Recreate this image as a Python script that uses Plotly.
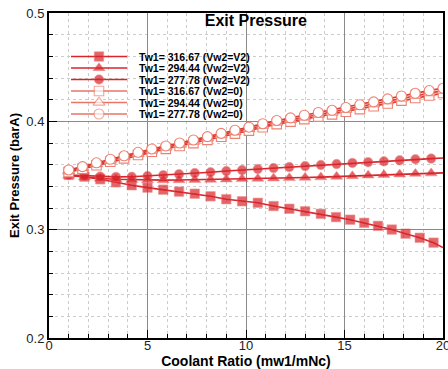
import plotly.graph_objects as go

# ---- data ----
x_sq = [1.0, 1.8, 2.6, 3.4, 4.2, 5.0, 5.8, 6.6, 7.4, 8.2, 9.0, 9.8, 10.6, 11.4, 12.2,
        13.0, 13.8, 14.57, 15.29, 16.0, 16.7, 17.4, 18.1, 18.82, 19.52, 20.0]
y_sq_v2 = [0.3505, 0.3489, 0.3465, 0.3437, 0.3410, 0.3388, 0.3369, 0.3351, 0.3332, 0.3308,
           0.3281, 0.3262, 0.3248, 0.3218, 0.3193, 0.3170, 0.3146, 0.3116, 0.3092, 0.3063,
           0.3035, 0.3001, 0.2963, 0.2925, 0.2880, 0.2835]

x_ct = [1.0, 1.8, 2.6, 3.4, 4.2, 5.0, 5.8, 6.6, 7.4, 8.2, 9.0, 9.8, 10.6, 11.4, 12.2,
        13.0, 13.8, 14.6, 15.4, 16.2, 17.0, 17.8, 18.6, 19.4, 20.0]
y_tri_v2 = [0.3500, 0.3484, 0.3472, 0.3465, 0.3460, 0.3458, 0.3457, 0.3458, 0.3460, 0.3462,
            0.3465, 0.3468, 0.3471, 0.3474, 0.3477, 0.3481, 0.3485, 0.3490, 0.3495, 0.3501,
            0.3506, 0.3511, 0.3517, 0.3521, 0.3524]
y_cir_v2 = [0.3505, 0.3497, 0.3490, 0.3487, 0.3488, 0.3495, 0.3503, 0.3512, 0.3522, 0.3530,
            0.3541, 0.3550, 0.3560, 0.3569, 0.3578, 0.3587, 0.3597, 0.3606, 0.3616, 0.3623,
            0.3631, 0.3640, 0.3650, 0.3656, 0.3661]

x_open = [1.00, 1.70, 2.41, 3.11, 3.81, 4.52, 5.22, 5.93, 6.63, 7.33, 8.04, 8.74, 9.44, 10.15,
          10.85, 11.56, 12.26, 12.96, 13.67, 14.37, 15.07, 15.78, 16.48, 17.19, 17.89, 18.59,
          19.30, 20.00]
y_cir_0 = [0.3551, 0.3582, 0.3617, 0.3650, 0.3682, 0.3714, 0.3745, 0.3773, 0.3800, 0.3828,
           0.3859, 0.3889, 0.3918, 0.3946, 0.3978, 0.4008, 0.4032, 0.4056, 0.4082, 0.4102,
           0.4128, 0.4153, 0.4180, 0.4207, 0.4234, 0.4259, 0.4284, 0.4306]
y_tri_0 = [0.3541, 0.3571, 0.3606, 0.3638, 0.3670, 0.3701, 0.3732, 0.3759, 0.3786, 0.3813,
           0.3844, 0.3873, 0.3902, 0.3930, 0.3961, 0.3991, 0.4014, 0.4038, 0.4063, 0.4083,
           0.4108, 0.4133, 0.4159, 0.4186, 0.4212, 0.4237, 0.4261, 0.4283]
y_sq_0 = [0.3531, 0.3561, 0.3595, 0.3627, 0.3658, 0.3689, 0.3719, 0.3746, 0.3772, 0.3799,
          0.3829, 0.3858, 0.3887, 0.3914, 0.3945, 0.3974, 0.3997, 0.4020, 0.4045, 0.4064,
          0.4089, 0.4113, 0.4139, 0.4165, 0.4191, 0.4215, 0.4239, 0.4261]

names = ["Tw1= 316.67 (Vw2=V2)", "Tw1= 294.44 (Vw2=V2)", "Tw1= 277.78 (Vw2=V2)",
         "Tw1= 316.67 (Vw2=0)", "Tw1= 294.44 (Vw2=0)", "Tw1= 277.78 (Vw2=0)"]

RED = "#d8242b"
LINE_OPEN = "#dc3934"
LEG_OPEN = "#ea7566"
EDGE_OPEN = "#ee8272"

# style per series: (line colour, line width, legend line colour, marker dict)
styles = [
    (RED, 1.6, RED, dict(symbol="square", size=9.5, color=RED, line=dict(color="#e8706a", width=0.6))),
    (RED, 1.6, RED, dict(symbol="triangle-up", size=10.5, color=RED, line=dict(color="#e8706a", width=0.6))),
    (RED, 1.6, RED, dict(symbol="circle", size=9.5, color=RED, line=dict(color="#e8706a", width=0.6))),
    (LINE_OPEN, 1.7, LEG_OPEN, dict(symbol="square", size=9.5, color="white", line=dict(color=EDGE_OPEN, width=1.1))),
    (LINE_OPEN, 1.7, LEG_OPEN, dict(symbol="triangle-up", size=10.5, color="white", line=dict(color=EDGE_OPEN, width=1.1))),
    (LINE_OPEN, 1.7, LEG_OPEN, dict(symbol="circle", size=10, color="white", line=dict(color=EDGE_OPEN, width=1.1))),
]
series = [(x_sq, y_sq_v2, True), (x_ct, y_tri_v2, True), (x_ct, y_cir_v2, True),
          (x_open, y_sq_0, False), (x_open, y_tri_0, False), (x_open, y_cir_0, False)]

fig = go.Figure()

for (xs, ys, line_end), name, (lc, lw, _, mk) in zip(series, names, styles):
    m = dict(mk)
    if line_end:
        # last value of the V2 curves is only where the curve meets the frame (no symbol)
        m["size"] = [mk["size"]] * (len(xs) - 1) + [0]
    fig.add_trace(go.Scatter(x=xs, y=ys, name=name, mode="lines+markers",
                             line=dict(color=lc, width=lw), marker=m, showlegend=False))

# ---- compact legend (Plotly's own legend forces >=19 px rows; the original uses ~11.5 px) ----
PLOT_W, PLOT_H = 394, 325          # plot-area size in px
LEG_LEFT, LEG_TOP, ROW = 22, 43.5, 11.5
KEY_LEN, TEXT_GAP = 56, 10
# white panels behind the legend and the title (they hide the grid, as in the original)
fig.add_shape(type="rect", xref="x2", yref="y2", x0=LEG_LEFT - 4, x1=LEG_LEFT + 184,
              y0=LEG_TOP - 8, y1=LEG_TOP + 5 * ROW + 7, fillcolor="white", line=dict(width=0),
              layer="below")
fig.add_shape(type="rect", xref="x2", yref="y2", x0=150, x1=262, y0=1, y1=17,
              fillcolor="white", line=dict(width=0), layer="below")
for i, (name, (lc, lw, leg_c, mk)) in enumerate(zip(names, styles)):
    yy = LEG_TOP + i * ROW
    fig.add_trace(go.Scatter(
        x=[LEG_LEFT, LEG_LEFT + KEY_LEN / 2, LEG_LEFT + KEY_LEN], y=[yy, yy, yy],
        xaxis="x2", yaxis="y2", mode="lines+markers", showlegend=False, hoverinfo="skip",
        line=dict(color=leg_c, width=lw),
        marker=dict(mk, size=[0, mk["size"], 0])))
    fig.add_annotation(x=LEG_LEFT + KEY_LEN + TEXT_GAP, y=yy, xref="x2", yref="y2",
                       text="<b>" + name + "</b>", showarrow=False, xanchor="left",
                       yanchor="middle", font=dict(size=10.5, color="black"))

axis_common = dict(
    showline=True, linewidth=2, linecolor="black", mirror=True,
    ticks="inside", ticklen=8, tickwidth=1, tickcolor="black",
    showgrid=True, gridcolor="#8a8a8a", gridwidth=1, zeroline=False, automargin=False,
    tickfont=dict(size=13, color="#222222"),
)

fig.update_layout(
    xaxis=dict(range=[0, 20], tick0=0, dtick=5, ticklabelstandoff=-6, ticklabeloverflow="allow",
               minor=dict(dtick=1, ticks="inside", ticklen=4, tickcolor="black",
                          showgrid=True, gridcolor="#cccccc", griddash="dot", gridwidth=1),
               title=dict(text="<b>Coolant Ratio (mw1/mNc)</b>", font=dict(size=14), standoff=2),
               **axis_common),
    yaxis=dict(range=[0.2, 0.5], tick0=0.2, dtick=0.1, tickformat=".1f",
               minor=dict(dtick=0.02, ticks="inside", ticklen=4, tickcolor="black",
                          showgrid=True, gridcolor="#cccccc", griddash="dot", gridwidth=1),
               title=dict(text="<b>Exit Pressure (barA)</b>", font=dict(size=13), standoff=4),
               **axis_common),
    xaxis2=dict(overlaying="x", range=[0, PLOT_W], visible=False, fixedrange=True),
    yaxis2=dict(overlaying="y", range=[PLOT_H, 0], visible=False, fixedrange=True),
    width=448, height=369,
    margin=dict(l=49, r=5, t=13, b=31),
    paper_bgcolor="white", plot_bgcolor="white",
    font=dict(family="Liberation Sans, Arial, sans-serif", color="black"),
    title=dict(text="<b>Exit Pressure</b>", font=dict(size=16), x=0.525, xanchor="center",
               xref="paper", yref="paper", y=0.995, yanchor="top"),
    showlegend=False,
)

fig.write_html("out.html")
